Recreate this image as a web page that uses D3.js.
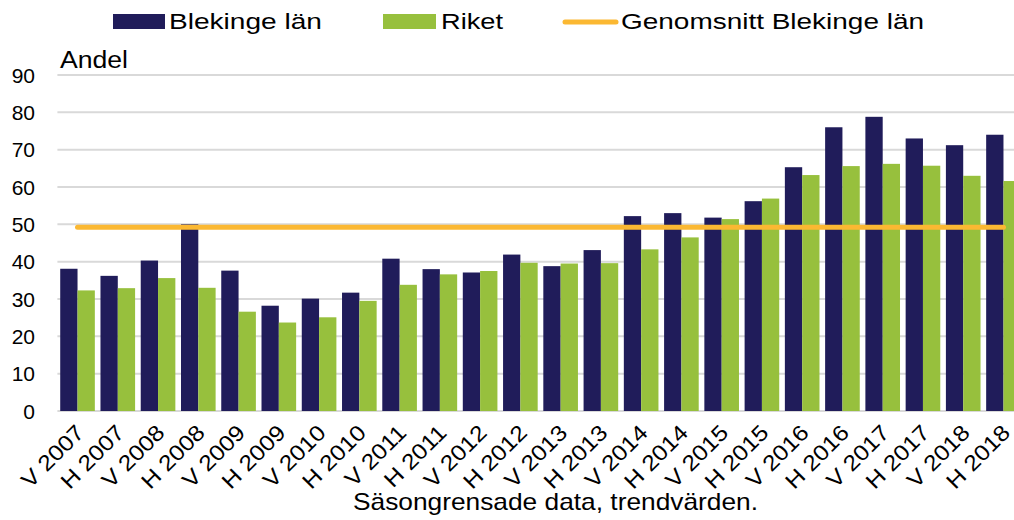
<!DOCTYPE html>
<html>
<head>
<meta charset="utf-8" />
<script src="https://d3js.org/d3.v7.min.js"></script>
<style>
    body { margin: 0; background: #ffffff; }
    svg { display: block; font-family: "Liberation Sans", Arial, sans-serif; }
    text { fill: #000000; }
</style>
</head>
<body>
<svg width="1014" height="520"></svg>
<script>
    // Data
    var categories = ["V 2007", "H 2007", "V 2008", "H 2008", "V 2009", "H 2009", "V 2010", "H 2010",
                      "V 2011", "H 2011", "V 2012", "H 2012", "V 2013", "H 2013", "V 2014", "H 2014",
                      "V 2015", "H 2015", "V 2016", "H 2016", "V 2017", "H 2017", "V 2018", "H 2018"];
    var blekinge = [38.1, 36.2, 40.3, 50.0, 37.6, 28.2, 30.1, 31.7,
                    40.8, 38.0, 37.1, 41.9, 38.8, 43.1, 52.2, 53.0,
                    51.8, 56.2, 65.3, 76.0, 78.8, 73.0, 71.2, 74.0];
    var riket = [32.3, 32.9, 35.6, 33.0, 26.6, 23.7, 25.1, 29.5,
                 33.8, 36.6, 37.5, 39.7, 39.5, 39.6, 43.3, 46.5,
                 51.4, 56.9, 63.2, 65.6, 66.2, 65.7, 63.0, 61.6];
    var genomsnitt = 49.2;
    var yTicks = [0, 10, 20, 30, 40, 50, 60, 70, 80, 90];
    var seriesNames = ["Blekinge län", "Riket"];
    var colors = { "Blekinge län": "#201c5a", "Riket": "#97c03d", "avg": "#fbb832" };

    var svg = d3.select("svg");
    var plot = { left: 57.4, right: 1023.6, top: 75, bottom: 411 };

    var x = d3.scaleBand().domain(categories).range([plot.left, plot.right]).paddingInner(0.14).paddingOuter(0.07);
    var xs = d3.scaleBand().domain(seriesNames).range([0, x.bandwidth()]);
    var y = d3.scaleLinear().domain([0, 90]).range([plot.bottom, plot.top]);

    // gridlines
    svg.append("g").selectAll("line").data(yTicks).enter().append("line")
        .attr("x1", plot.left).attr("x2", 1014)
        .attr("y1", function(d) { return y(d); }).attr("y2", function(d) { return y(d); })
        .attr("stroke", "#d9d9d9").attr("stroke-width", 2);

    // y tick labels
    svg.append("g").selectAll("text").data(yTicks).enter().append("text")
        .attr("x", 35).attr("y", function(d) { return y(d); }).attr("dy", "0.36em")
        .attr("text-anchor", "end").style("font-size", "21px")
        .text(function(d) { return d; });

    svg.append("text").attr("x", 60).attr("y", 68).style("font-size", "23px")
        .attr("textLength", 68).attr("lengthAdjust", "spacingAndGlyphs").text("Andel");

    // bars
    var rows = categories.map(function(c, i) { return { cat: c, values: [
        { name: "Blekinge län", v: blekinge[i] }, { name: "Riket", v: riket[i] } ] }; });

    var groups = svg.append("g").selectAll("g").data(rows).enter().append("g")
        .attr("transform", function(d) { return "translate(" + x(d.cat) + ",0)"; });
    groups.selectAll("rect").data(function(d) { return d.values; }).enter().append("rect")
        .attr("x", function(d) { return xs(d.name); })
        .attr("width", xs.bandwidth())
        .attr("y", function(d) { return y(d.v); })
        .attr("height", function(d) { return y(0) - y(d.v); })
        .attr("fill", function(d) { return colors[d.name]; });

    // average line
    var avgLine = d3.line()
        .x(function(d) { return x(d) + x.bandwidth() / 2; })
        .y(function() { return y(genomsnitt); });
    svg.append("path").datum(categories).attr("d", avgLine)
        .attr("fill", "none").attr("stroke", colors.avg).attr("stroke-width", 5).attr("stroke-linecap", "round");

    // x labels (slightly wide, as in the original)
    svg.append("g").selectAll("text").data(categories).enter().append("text")
        .attr("transform", function(d) { return "translate(" + (x(d) + x.bandwidth() / 2 + 8) + ",434) rotate(-45) scale(1.12,1)"; })
        .attr("text-anchor", "end").style("font-size", "22px")
        .text(function(d) { return d; });

    // footer
    svg.append("text").attr("x", 353).attr("y", 510).style("font-size", "24px")
        .attr("textLength", 405).attr("lengthAdjust", "spacingAndGlyphs")
        .text("Säsongrensade data, trendvärden.");

    // legend
    var legend = svg.append("g");
    legend.append("rect").attr("x", 113).attr("y", 14).attr("width", 52).attr("height", 15).attr("fill", colors["Blekinge län"]);
    legend.append("text").attr("x", 169).attr("y", 29).style("font-size", "22px")
        .attr("textLength", 153).attr("lengthAdjust", "spacingAndGlyphs").text("Blekinge län");
    legend.append("rect").attr("x", 383).attr("y", 14).attr("width", 53).attr("height", 15).attr("fill", colors["Riket"]);
    legend.append("text").attr("x", 441).attr("y", 29).style("font-size", "22px")
        .attr("textLength", 62).attr("lengthAdjust", "spacingAndGlyphs").text("Riket");
    legend.append("line").attr("x1", 565).attr("x2", 616).attr("y1", 22).attr("y2", 22)
        .attr("stroke", colors.avg).attr("stroke-width", 5).attr("stroke-linecap", "round");
    legend.append("text").attr("x", 621).attr("y", 29).style("font-size", "22px")
        .attr("textLength", 303).attr("lengthAdjust", "spacingAndGlyphs").text("Genomsnitt Blekinge län");
</script>
</body>
</html>
